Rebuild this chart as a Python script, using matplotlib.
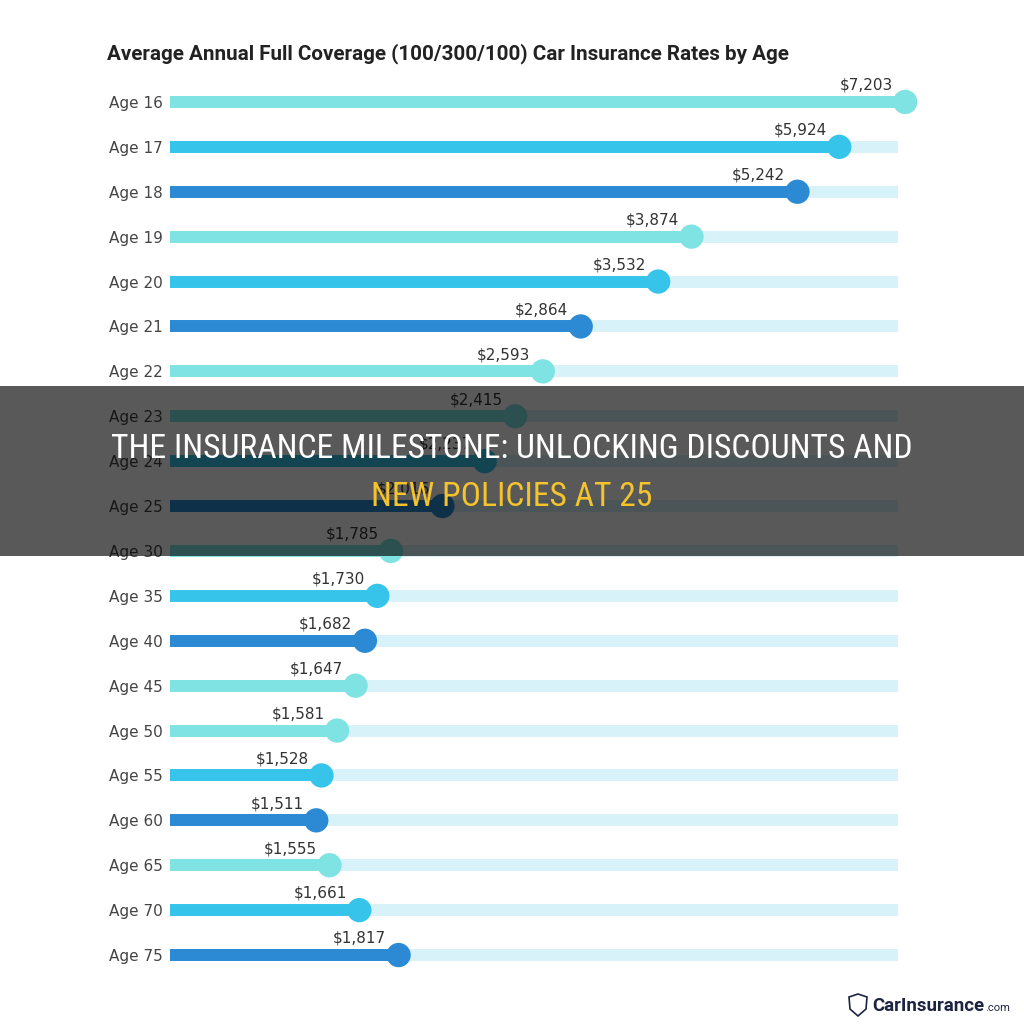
import numpy as np
import matplotlib
matplotlib.use('Agg')
import matplotlib.pyplot as plt
from matplotlib.patches import Rectangle, Polygon

# データ
ages = ['Age 16', 'Age 17', 'Age 18', 'Age 19', 'Age 20', 'Age 21', 'Age 22',
        'Age 23', 'Age 24', 'Age 25', 'Age 30', 'Age 35', 'Age 40', 'Age 45',
        'Age 50', 'Age 55', 'Age 60', 'Age 65', 'Age 70', 'Age 75']
rates = [7203, 5924, 5242, 3874, 3532, 2864, 2593, 2415, 2237, 2016,
         1785, 1730, 1682, 1647, 1581, 1528, 1511, 1555, 1661, 1817]
shade = ['L', 'C', 'B', 'L', 'C', 'B', 'L', 'L', 'C', 'B',
         'L', 'C', 'B', 'L', 'L', 'C', 'B', 'L', 'C', 'B']

palette = {'L': '#80e3e3', 'C': '#36c4ea', 'B': '#2b8ad3'}
track_color = '#d7f2f8'

W = 1024
fig = plt.figure(figsize=(10.24, 10.24), dpi=100)
fig.patch.set_facecolor('white')
renderer = fig.canvas.get_renderer()


def fit_width(t, target_px):
    # テキスト幅を目標ピクセルに合わせる
    w = t.get_window_extent(renderer=renderer).width
    t.set_fontsize(t.get_fontsize() * target_px / w)


# 軸の位置 (ピクセル基準)
left, right, top, bottom = 170, 898, 79.5, 977.5
ax = fig.add_axes([left / W, 1 - bottom / W, (right - left) / W, (bottom - top) / W])

# インフォグラフィックの棒は比例していないので圧縮スケールを使う
off = 500
ax.set_xscale('function', functions=(lambda v: np.log(np.maximum(v - off, 1e-9)),
                                     lambda u: np.exp(u) + off))
xmin, xmax = 1132, 7050
ax.set_xlim(xmin, xmax)
n = len(ages)
y = np.arange(n)
ax.set_ylim(n - 0.5, -0.5)

cols = [palette[s] for s in shade]

# 背景トラック
ax.hlines(y, xmin, xmax, colors=track_color, linewidth=8.6, capstyle='butt', zorder=1)
# 値の棒
ax.hlines(y, xmin, rates, colors=cols, linewidth=8.6, capstyle='butt', zorder=2)
ax.scatter(rates, y, s=17.5 ** 2, c=cols, zorder=3, clip_on=False, linewidths=0)

for yi, v in zip(y, rates):
    ax.annotate(f'${v:,}', (v, yi), xytext=(-9, 12), textcoords='offset points',
                ha='right', va='center', fontsize=11, color='#333333',
                annotation_clip=False)

ax.set_yticks(y)
ax.set_yticklabels(ages, fontsize=11, color='#444444')
ax.tick_params(axis='y', length=0, pad=5)
ax.set_xticks([])
ax.xaxis.set_minor_locator(matplotlib.ticker.NullLocator())
for sp in ax.spines.values():
    sp.set_visible(False)
ax.patch.set_alpha(0)

title = fig.text(107 / W, 1 - 54 / W,
                 'Average Annual Full Coverage (100/300/100) Car Insurance Rates by Age',
                 fontsize=13.5, fontweight='bold', color='#222222', va='center', ha='left',
                 family=['Roboto', 'DejaVu Sans'])
fit_width(title, 680)

# ロゴ
logo = fig.text(872 / W, 1 - 1006 / W, 'CarInsurance', fontsize=12.5, fontweight='bold',
                color='#1d2442', va='center', ha='left', family=['Roboto', 'DejaVu Sans'])
fit_width(logo, 112)
bb = logo.get_window_extent(renderer=renderer)
fig.text(bb.x1 / W + 1 / W, 1 - 1008 / W, '.com', fontsize=8, color='#1d2442',
         va='center', ha='left', family=['Roboto', 'DejaVu Sans'])
shield = Polygon([[849 / W, 1 - 997 / W], [858 / W, 1 - 994 / W], [867 / W, 1 - 997 / W],
                  [866 / W, 1 - 1009 / W], [858 / W, 1 - 1016 / W], [850 / W, 1 - 1009 / W]],
                 closed=True, transform=fig.transFigure, facecolor='white',
                 edgecolor='#1d2442', linewidth=1.2)
fig.add_artist(shield)

# 暗いオーバーレイ帯
band = Rectangle((0, 1 - 556 / W), 1, (556 - 386) / W, transform=fig.transFigure,
                 facecolor='black', alpha=0.65, edgecolor='none', zorder=5)
fig.add_artist(band)

overlay_font = ['Roboto Condensed', 'Noto Sans Condensed', 'Roboto', 'DejaVu Sans']
line1 = fig.text(0.5, 1 - 449 / W, 'THE INSURANCE MILESTONE: UNLOCKING DISCOUNTS AND',
                 fontsize=29, color='white', ha='center', va='center',
                 family=overlay_font, zorder=6)
fit_width(line1, 800)
line2 = fig.text(0.5, 1 - 497 / W, 'NEW POLICIES AT 25',
                 fontsize=line1.get_fontsize(), color='#f5c42c', ha='center', va='center',
                 family=overlay_font, zorder=6)

fig.savefig('out.png', dpi=100)
